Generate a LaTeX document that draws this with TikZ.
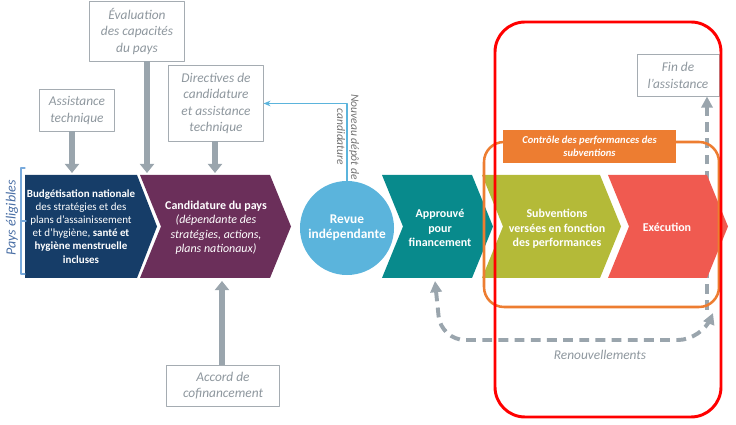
\documentclass[tikz,border=0pt]{standalone}
\usepackage{fontspec}
\setmainfont{Carlito}
\usetikzlibrary{arrows.meta}

\definecolor{budgetnavy}{RGB}{22,61,104}
\definecolor{candpurple}{RGB}{107,47,90}
\definecolor{revueblue}{RGB}{91,180,220}
\definecolor{apprteal}{RGB}{8,138,140}
\definecolor{subvolive}{RGB}{180,186,56}
\definecolor{execred}{RGB}{240,90,80}
\definecolor{ctrlorange}{RGB}{237,125,49}
\definecolor{arrowgrey}{RGB}{154,165,173}
\definecolor{boxgrey}{RGB}{165,172,178}
\definecolor{txtgrey}{RGB}{142,151,158}
\definecolor{paysblue}{RGB}{74,111,165}
\definecolor{bracketblue}{RGB}{120,170,220}

\begin{document}
\begin{tikzpicture}[line cap=round,line join=round,x=0.025cm,y=-0.025cm,
  greybox/.style={draw=boxgrey,line width=0.7pt,fill=white,align=center,text=txtgrey,
    font=\fontsize{9.5}{11.8}\selectfont\itshape,inner sep=0pt},
  bigarrow/.style={arrowgrey,line width=4.3pt,line cap=butt,-{Triangle[width=10pt,length=6.5pt]}},
  steptext/.style={text=white,align=center,font=\fontsize{8.5}{10.3}\selectfont\bfseries},
  renew/.style={arrowgrey,line width=2.8pt,line cap=butt,dash pattern=on 7pt off 4.5pt}]
      \useasboundingbox (0,0) rectangle (736,425);

      % fin de l'assistance (behind the steps)
      \node[greybox,minimum width=2.05cm,minimum height=1.025cm] (fin) at (678,75.5) {Fin de\\l’assistance};
      \coordinate (finfoot) at (707,310);
      \draw[renew,-{Triangle[width=8pt,length=8pt]}] (finfoot) -- (fin.south -| finfoot);

      % steps
      \fill[budgetnavy] (25,175) -- (137,175) -- (157,226.5) -- (137,278) -- (25,278) -- cycle;
      \foreach \xa/\xb/\col in {140/270/candpurple,382/472/apprteal,482/600/subvolive,608/707/execred}{
        \fill[\col] (\xa,175) -- (\xb,175) -- (\xb+21,226.5) -- (\xb,278) -- (\xa,278) -- (\xa+21,226.5) -- cycle;
      }
      \node[steptext,font=\fontsize{7.8}{9.3}\selectfont] (budget) at (81,226.5)
        {\textbf{Budgétisation nationale}\\ des stratégies et des\\ plans d’assainissement\\ et d’hygiène, \textbf{santé et}\\ \textbf{hygiène menstruelle}\\ \textbf{incluses}};
      \node[steptext] (cand) at (216,228)
        {Candidature du pays\\ \mdseries\itshape (dépendante des\\ \mdseries\itshape stratégies, actions,\\ \mdseries\itshape plans nationaux)};
      \node[circle,fill=revueblue,minimum size=2.35cm,steptext,font=\fontsize{9.5}{10.5}\selectfont\bfseries] (revue) at (347,228) {Revue\\indépendante};
      \node[steptext] (appr) at (440,228) {Approuvé\\pour\\financement};
      \node[steptext] (subv) at (557,229) {Subventions\\versées en fonction\\des performances};
      \node[steptext] (exec) at (667,227) {Exécution};

      % pays eligibles
      \draw[bracketblue,line width=0.8pt] (25,168) -- (21,168) -- (21,274) -- (25,274);
      \draw[bracketblue,line width=0.8pt] (21,221) -- (26,221);
      \node[rotate=90,text=paysblue,font=\fontsize{10}{12}\selectfont\itshape] (pays) at (12,218) {Pays éligibles};

      % inputs
      \node[greybox,minimum width=1.85cm,minimum height=1.025cm] (assist) at (77,110.5) {Assistance\\technique};
      \node[greybox,minimum width=2.35cm,minimum height=1.475cm] (evalu) at (137,31.5) {Évaluation\\des capacités\\du pays};
      \node[greybox,minimum width=2.35cm,minimum height=1.875cm] (direct) at (216,103.5) {Directives de\\candidature\\et assistance\\technique};
      \node[greybox,minimum width=2.8cm,minimum height=1.025cm] (accord) at (223,385.5) {Accord de\\cofinancement};
      \coordinate (a1) at (72,173);
      \coordinate (a2) at (147,173);
      \coordinate (a3) at (215,173);
      \coordinate (a4) at (222,281);
      \draw[bigarrow] (assist.south -| a1) -- (a1);
      \draw[bigarrow] (evalu.south -| a2) -- (a2);
      \draw[bigarrow] (direct.south -| a3) -- (a3);
      \draw[bigarrow] (accord.north -| a4) -- (a4);

      % nouveau depot
      \draw[revueblue,line width=0.8pt,-{Stealth[length=5pt,width=4pt]}] (revue.north) |- (direct.east);
      \node[rotate=-90,align=center,text=black!55,font=\fontsize{8.2}{10}\selectfont\itshape] (nouveau) at (348,137) {Nouveau dépôt de\\candidature};

      % performance monitoring
      \draw[ctrlorange,line width=1.8pt,rounded corners=0.5cm] (484,142) rectangle (719,307);
      \node[fill=ctrlorange,minimum width=4.325cm,minimum height=0.825cm,inner sep=0pt,align=center,text=white,
        font=\fontsize{7.5}{9.2}\selectfont\bfseries\itshape] (ctrl) at (589.5,146.5) {Contrôle des performances des\\subventions};

      % renewals
      \coordinate (renR) at (713,313);
      \coordinate (renL) at (435,281);
      \draw[renew,rounded corners=0.6cm,{Triangle[width=8pt,length=8pt]}-{Triangle[width=8pt,length=8pt]}]
        (renL) -- (441,340) -- (702,340) -- (renR);
      \node[text=txtgrey,font=\fontsize{9.5}{11.5}\selectfont\itshape] (renlbl) at (600,355) {Renouvellements};

      % highlight
      \draw[red,line width=2.1pt,rounded corners=0.75cm] (495,22) rectangle (721,417);
\end{tikzpicture}
\end{document}
